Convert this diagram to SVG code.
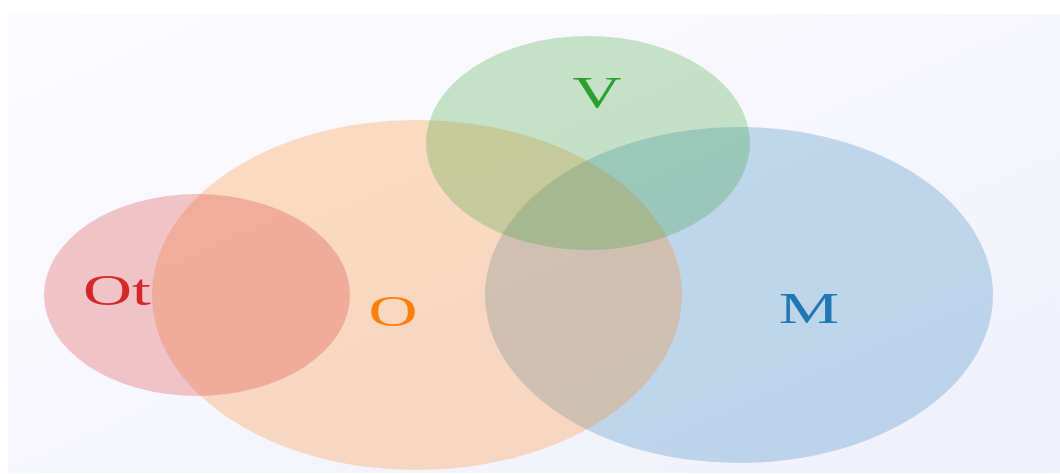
<svg xmlns="http://www.w3.org/2000/svg" width="1060" height="474" viewBox="0 0 1060 474">
<defs>
<linearGradient id="bg" x1="0" y1="0" x2="1" y2="1">
<stop offset="0" stop-color="#fcfcfe"/>
<stop offset="1" stop-color="#f0f0fc"/>
</linearGradient>
</defs>
<style>
.set{fill-opacity:0.25;stroke:none}
.lbl{font-family:"Liberation Serif","DejaVu Serif",serif;font-size:45px;text-anchor:middle}
</style>
<rect x="0" y="0" width="1060" height="474" fill="#ffffff"/>
<rect x="8" y="14" width="1052" height="459" fill="url(#bg)"/>
<g id="M">
<ellipse class="set" cx="739" cy="295" rx="254" ry="168" fill="#1f77b4"/>
<text class="lbl" transform="translate(809,323) scale(1.51,1)" fill="#1f77b4">M</text>
</g>
<g id="O">
<ellipse class="set" cx="417" cy="295" rx="265" ry="175" fill="#ff7f0e"/>
<text class="lbl" transform="translate(393,326) scale(1.51,1)" fill="#ff7f0e">O</text>
</g>
<g id="V">
<ellipse class="set" cx="588" cy="143" rx="162" ry="107" fill="#2ca02c"/>
<text class="lbl" transform="translate(597,107) scale(1.51,1)" fill="#2ca02c">V</text>
</g>
<g id="Ot">
<ellipse class="set" cx="197" cy="295" rx="153" ry="101" fill="#d62728"/>
<text class="lbl" transform="translate(117,305) scale(1.51,1)" fill="#d62728">Ot</text>
</g>
<g id="connectors"/>
</svg>
